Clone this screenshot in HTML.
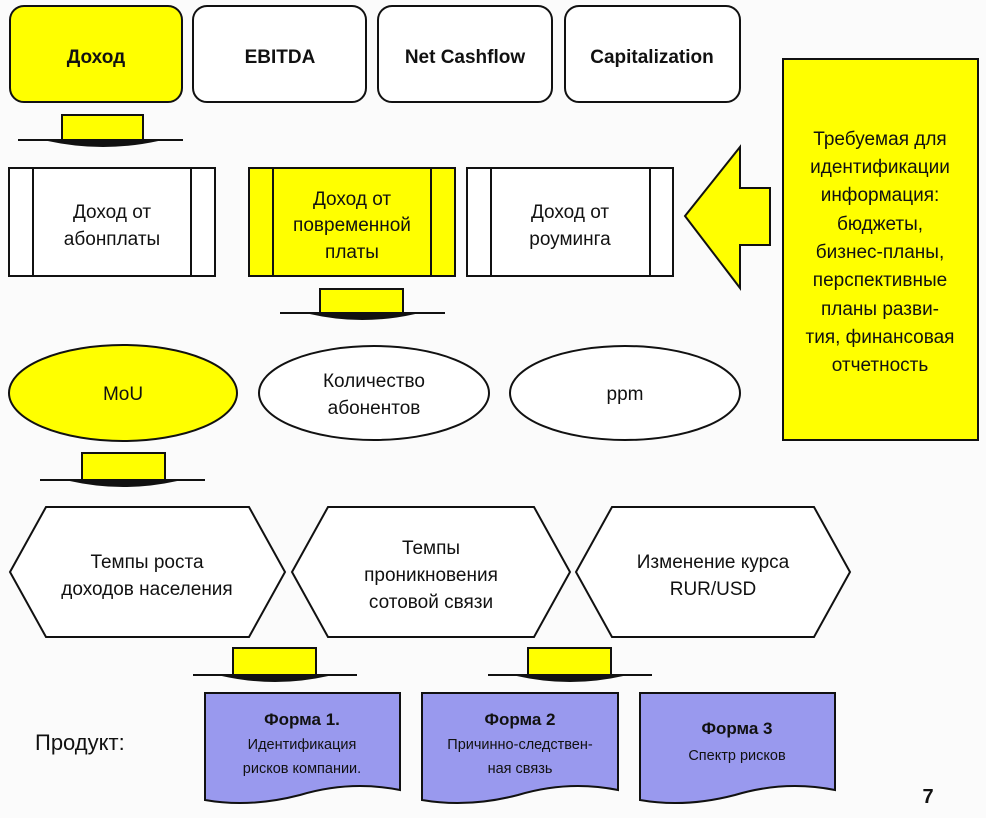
<!DOCTYPE html>
<html><head><meta charset="utf-8"><style>
html,body{margin:0;padding:0;background:#fbfbfb;}
svg{display:block;}
text{font-family:"Liberation Sans","DejaVu Sans",sans-serif;fill:#111;text-anchor:middle;}
</style></head><body>
<svg width="986" height="818" viewBox="0 0 986 818" xmlns="http://www.w3.org/2000/svg">
<g stroke="#111" stroke-width="2">
<rect x="10" y="6" width="172" height="96" rx="14" fill="#ffff00"/>
<rect x="193" y="6" width="173" height="96" rx="14" fill="#fff"/>
<rect x="378" y="6" width="174" height="96" rx="14" fill="#fff"/>
<rect x="565" y="6" width="175" height="96" rx="14" fill="#fff"/>
<rect x="9" y="168" width="206" height="108" fill="#fff"/>
<line x1="33" y1="168" x2="33" y2="276"/><line x1="191" y1="168" x2="191" y2="276"/>
<rect x="249" y="168" width="206" height="108" fill="#ffff00"/>
<line x1="273" y1="168" x2="273" y2="276"/><line x1="431" y1="168" x2="431" y2="276"/>
<rect x="467" y="168" width="206" height="108" fill="#fff"/>
<line x1="491" y1="168" x2="491" y2="276"/><line x1="650" y1="168" x2="650" y2="276"/>
<polygon points="685,216 740,147 740,188 770,188 770,245 740,245 740,288" fill="#ffff00"/>
<rect x="783" y="59" width="195" height="381" fill="#ffff00"/>
<ellipse cx="123" cy="393" rx="114" ry="48" fill="#ffff00"/>
<ellipse cx="374" cy="393" rx="115" ry="47" fill="#fff"/>
<ellipse cx="625" cy="393" rx="115" ry="47" fill="#fff"/>
<polygon points="10,572 46,507 249,507 285,572 249,637 46,637" fill="#fff"/>
<polygon points="292,572 328,507 534,507 570,572 534,637 328,637" fill="#fff"/>
<polygon points="576,572 612,507 814,507 850,572 814,637 612,637" fill="#fff"/>
<path d="M205,693 H400 V790 Q350,780 300,795 Q250,808 205,800 Z" fill="#9999ee"/>
<path d="M422,693 H618 V790 Q568,780 518,795 Q468,808 422,800 Z" fill="#9999ee"/>
<path d="M640,693 H835 V790 Q785,780 735,795 Q685,808 640,800 Z" fill="#9999ee"/>
</g>
<g stroke="#111" stroke-width="2">
<line x1="18" y1="140" x2="183" y2="140"/><path d="M48,140 Q103,152 158,140 Z" fill="#111"/><rect x="62" y="115" width="81" height="25" fill="#ffff00"/>
<line x1="280" y1="313" x2="445" y2="313"/><path d="M310,313 Q362,325 415,313 Z" fill="#111"/><rect x="320" y="289" width="83" height="24" fill="#ffff00"/>
<line x1="40" y1="480" x2="205" y2="480"/><path d="M70,480 Q123,492 177,480 Z" fill="#111"/><rect x="82" y="453" width="83" height="27" fill="#ffff00"/>
<line x1="193" y1="675" x2="357" y2="675"/><path d="M222,675 Q275,687 328,675 Z" fill="#111"/><rect x="233" y="648" width="83" height="27" fill="#ffff00"/>
<line x1="488" y1="675" x2="652" y2="675"/><path d="M517,675 Q570,687 623,675 Z" fill="#111"/><rect x="528" y="648" width="83" height="27" fill="#ffff00"/>
</g>
<g font-weight="bold" font-size="19">
<text x="96" y="63">Доход</text>
<text x="280" y="63">EBITDA</text>
<text x="465" y="63">Net Cashflow</text>
<text x="652" y="63">Capitalization</text>
</g>
<g font-size="19">
<text x="112" y="218">Доход от</text><text x="112" y="245">абонплаты</text>
<text x="352" y="205">Доход от</text><text x="352" y="231">повременной</text><text x="352" y="258">платы</text>
<text x="570" y="218">Доход от</text><text x="570" y="245">роуминга</text>
<text x="123" y="400">MoU</text>
<text x="374" y="387">Количество</text><text x="374" y="414">абонентов</text>
<text x="625" y="400">ppm</text>
<text x="147" y="568">Темпы роста</text><text x="147" y="595">доходов населения</text>
<text x="431" y="554">Темпы</text><text x="431" y="581">проникновения</text><text x="431" y="608">сотовой связи</text>
<text x="713" y="568">Изменение курса</text><text x="713" y="595">RUR/USD</text>
</g>
<g font-size="19">
<text x="880" y="145">Требуемая для</text>
<text x="880" y="173">идентификации</text>
<text x="880" y="201">информация:</text>
<text x="880" y="230">бюджеты,</text>
<text x="880" y="258">бизнес-планы,</text>
<text x="880" y="286">перспективные</text>
<text x="880" y="315">планы разви-</text>
<text x="880" y="343">тия, финансовая</text>
<text x="880" y="371">отчетность</text>
</g>
<text x="35" y="750" font-size="22" style="text-anchor:start">Продукт:</text>
<g font-weight="bold" font-size="17">
<text x="302" y="725">Форма 1.</text>
<text x="520" y="725">Форма 2</text>
<text x="737" y="734">Форма 3</text>
</g>
<g font-size="14.5">
<text x="302" y="749">Идентификация</text><text x="302" y="773">рисков компании.</text>
<text x="520" y="749">Причинно-следствен-</text><text x="520" y="773">ная связь</text>
<text x="737" y="760">Спектр рисков</text>
</g>
<text x="928" y="803" font-size="20" font-weight="bold">7</text>
</svg>
</body></html>
